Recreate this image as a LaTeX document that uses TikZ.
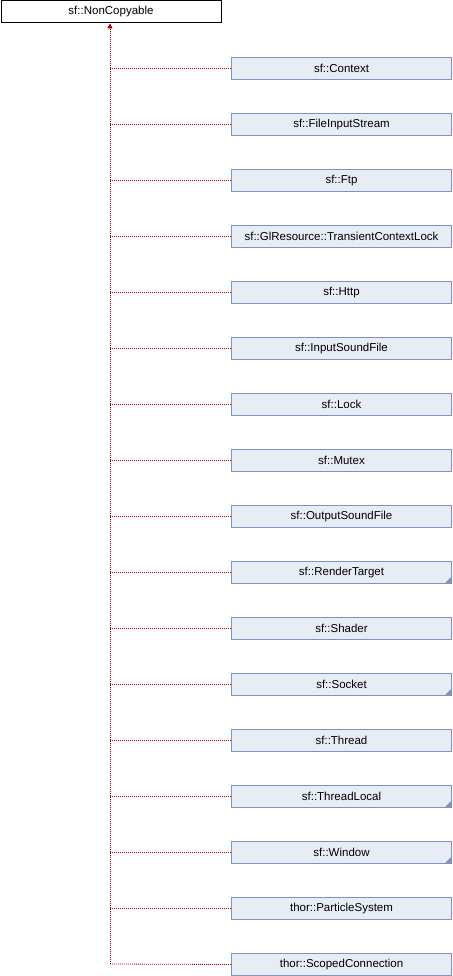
\documentclass[tikz,border=0pt]{standalone}
\usepackage{fontspec}
\setmainfont{Liberation Sans}
\usetikzlibrary{arrows.meta}
\definecolor{boxfill}{RGB}{232,236,245}
\definecolor{boxdraw}{RGB}{126,146,200}
\definecolor{edgecol}{RGB}{153,0,0}
\tikzset{
  x=1pt,y=-1pt,
  cls/.style={draw=boxdraw,fill=boxfill,line width=1pt,minimum width=220pt,minimum height=22pt,inner sep=0pt,font=\fontsize{11.5}{13}\selectfont,anchor=north west},
  base/.style={draw=black,fill=white,line width=1pt,minimum width=220pt,minimum height=22pt,inner sep=0pt,font=\fontsize{11.5}{13}\selectfont,anchor=north west},
  inh/.style={draw=edgecol,line width=0.8pt,dash pattern=on 1pt off 1pt},
}
\begin{document}
\begin{tikzpicture}
\useasboundingbox (0,0) rectangle (452,976);
\node[base] (nc) at (0.5,0.5) {sf::NonCopyable};
\foreach \n/\t [count=\i from 0] in {ctx/sf::Context,fis/sf::FileInputStream,ftp/sf::Ftp,gl/sf::GlResource::TransientContextLock,http/sf::Http,isf/sf::InputSoundFile,lock/sf::Lock,mtx/sf::Mutex,osf/sf::OutputSoundFile,rt/sf::RenderTarget,sh/sf::Shader,sock/sf::Socket,thr/sf::Thread,tl/sf::ThreadLocal,win/sf::Window,ps/thor::ParticleSystem,sc/thor::ScopedConnection}{
  \node[cls] (\n) at (231,57+56*\i) {\t};
}
\foreach \n in {rt,sock,tl,win}{
  \fill[boxdraw] ([xshift=-0.5pt,yshift=0.5pt]\n.south east) -- ++(0,-7) -- ++(-7,7) -- cycle;
}
\coordinate (corner) at (110,964);
\draw[inh] (corner) -- (sc.west);
\draw[inh,-{Triangle[length=5pt,width=5pt,fill=edgecol]}] (corner) -- (110,23.5) coordinate (tip);
\foreach \n in {ctx,fis,ftp,gl,http,isf,lock,mtx,osf,rt,sh,sock,thr,tl,win,ps}{
  \draw[inh] (\n.west) -- (110,0 |- \n.west);
}
\end{tikzpicture}
\end{document}
